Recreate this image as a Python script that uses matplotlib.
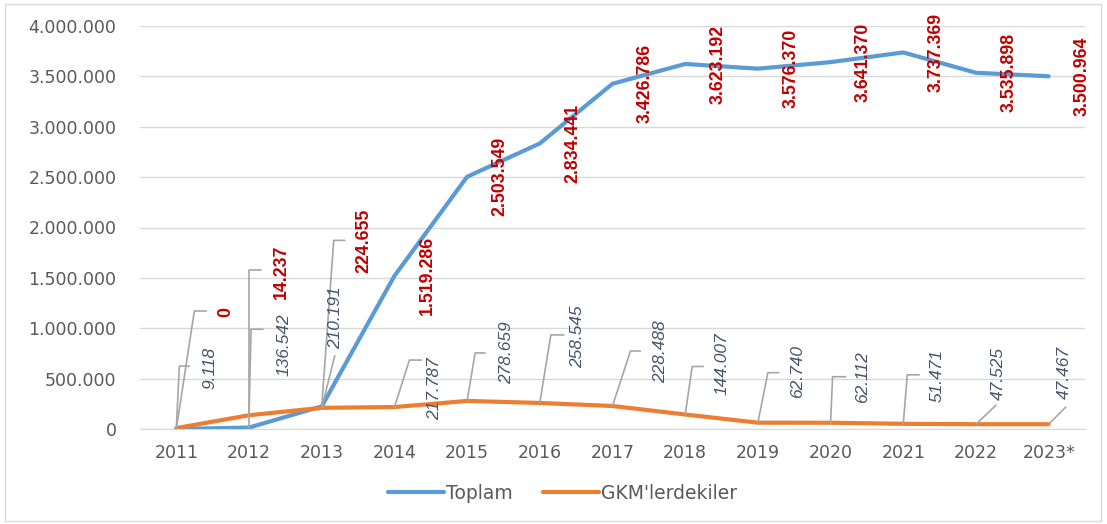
import math
import matplotlib.pyplot as plt
from matplotlib.patches import Rectangle
from matplotlib.ticker import FuncFormatter

years = ['2011', '2012', '2013', '2014', '2015', '2016', '2017',
         '2018', '2019', '2020', '2021', '2022', '2023*']
toplam = [0, 14237, 224655, 1519286, 2503549, 2834441, 3426786,
          3623192, 3576370, 3641370, 3737369, 3535898, 3500964]
gkm = [9118, 136542, 210191, 217787, 278659, 258545, 228488,
       144007, 62740, 62112, 51471, 47525, 47467]


def fmt(v):
    return '{:,}'.format(int(v)).replace(',', '.')


# label placement in pixels relative to the data point
# red labels (Toplam): text centre offset, leader (dx, dy, end) or None
red_pos = [(49, 117), (32, 156), (42, 165)] + [(33, 0)] * 10
red_lead = [(18, 118, 30), (0, 158, 12), (12, 166, 23)] + [None] * 10
# GKM labels: text centre offset, leader (dx, dy, end); end None -> straight
gkm_pos = [(34, 60), (35, 71), (14, 90), (40, 18), (39, 48), (38, 66), (48, 54),
           (37, 51), (40, 51), (32, 46), (34, 48), (22, 51), (16, 52)]
gkm_lead = [(3, 62, 13), (2, 86, 14), (13, 52, None), (15, 47, 27), (8, 48, 18),
            (11, 68, 24), (18, 55, 28), (7, 48, 18), (10, 50, 21), (2, 46, 15),
            (4, 49, 16), (20, 19, None), (17, 17, None)]

blue = '#5B9BD5'
orange = '#ED7D31'
red = '#C00000'
slate = '#44546A'
lead_c = '#A6A6A6'
grey_txt = '#595959'

fig = plt.figure(figsize=(11.07, 5.24), dpi=100)
ax = fig.add_axes([140 / 1107, 95 / 524, 945 / 1107, 403 / 524])

x = list(range(len(years)))
ax.plot(x, toplam, color=blue, lw=3, label='Toplam', solid_capstyle='round', zorder=3)
ax.plot(x, gkm, color=orange, lw=3, label="GKM'lerdekiler", solid_capstyle='round', zorder=3)


def leader(i, v, lead):
    dx, dy, end = lead
    if end is None:
        ax.annotate('', xy=(i, v), xytext=(dx, dy), textcoords='offset pixels',
                    arrowprops=dict(arrowstyle='-', color=lead_c, lw=1.2,
                                    shrinkA=0, shrinkB=0))
    else:
        ang = math.degrees(math.atan2(dy, dx))
        ax.annotate('', xy=(i, v), xytext=(end, dy), textcoords='offset pixels',
                    arrowprops=dict(arrowstyle='-', color=lead_c, lw=1.2,
                                    shrinkA=0, shrinkB=0,
                                    connectionstyle='angle,angleA=0,angleB=%f,rad=0' % ang))


for i in x:
    ax.annotate(fmt(toplam[i]), xy=(i, toplam[i]), xytext=red_pos[i],
                textcoords='offset pixels', rotation=90, ha='center', va='center',
                color=red, fontsize=12.8, fontweight='bold', family='Liberation Sans',
                zorder=5)
    if red_lead[i] is not None:
        leader(i, toplam[i], red_lead[i])
    ax.annotate(fmt(gkm[i]), xy=(i, gkm[i]), xytext=gkm_pos[i],
                textcoords='offset pixels', rotation=90, ha='center', va='center',
                color=slate, fontsize=12.5, fontstyle='italic', family='Liberation Sans',
                zorder=5)
    leader(i, gkm[i], gkm_lead[i])

ax.set_xlim(-0.5, len(years) - 0.5)
ax.set_ylim(0, 4000000)
ax.set_yticks(range(0, 4000001, 500000))
ax.yaxis.set_major_formatter(FuncFormatter(lambda v, p: fmt(v)))
ax.set_xticks(x)
ax.set_xticklabels(years)
ax.tick_params(axis='both', length=0, labelsize=12.5, colors=grey_txt)
ax.tick_params(axis='y', pad=17)
ax.tick_params(axis='x', pad=11)
ax.grid(axis='y', color='#D9D9D9', lw=1)
ax.set_axisbelow(True)
for s in ['top', 'right', 'left']:
    ax.spines[s].set_visible(False)
ax.spines['bottom'].set_color('#D9D9D9')

leg = fig.legend(loc='center', bbox_to_anchor=(0.508, 0.059), ncol=2, frameon=False,
                 fontsize=13.5, handlelength=3.0, handletextpad=0.1, columnspacing=1.6)
for t in leg.get_texts():
    t.set_color(grey_txt)

fig.patches.append(Rectangle((5 / 1107, 3 / 524), 1096 / 1107, 517 / 524,
                             transform=fig.transFigure, fill=False,
                             edgecolor='#D9D9D9', lw=1))

fig.savefig('out.png', dpi=100)
